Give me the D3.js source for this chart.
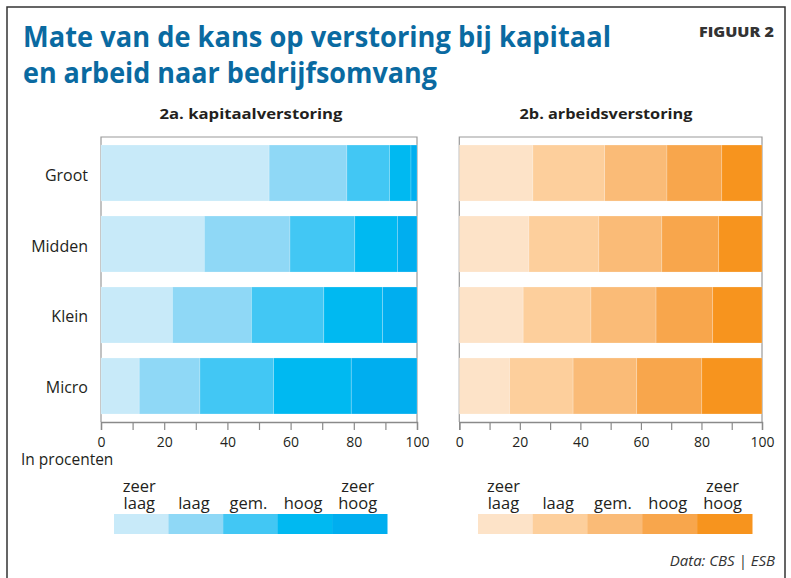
<!DOCTYPE html>
<html>
<head>
<meta charset="utf-8">
<script src="https://cdn.jsdelivr.net/npm/d3@7"></script>
<style>
  body { margin: 0; background: #fff; }
  text { font-family: "Open Sans", sans-serif; fill: #231f20; }
</style>
</head>
<body>
<script>
// data (percent per size class)
let categories = ['Groot', 'Midden', 'Klein', 'Micro'];
let levels = ['zeer laag', 'laag', 'gem.', 'hoog', 'zeer hoog'];
let kapitaal = [
  [53.2, 24.6, 13.5, 6.8, 1.9],
  [32.7, 27.1, 20.5, 13.5, 6.2],
  [22.6, 25.0, 22.9, 18.6, 10.9],
  [12.1, 19.2, 23.3, 24.6, 20.8]
];
let arbeid = [
  [24.3, 23.7, 20.6, 18.1, 13.3],
  [23.0, 23.1, 20.8, 18.8, 14.3],
  [21.1, 22.4, 21.5, 18.7, 16.3],
  [16.6, 21.0, 21.0, 21.5, 19.9]
];
let ticks = [0, 20, 40, 60, 80, 100];

let blues = ['#c8eaf9', '#8fd8f6', '#42c7f4', '#00b9f1', '#00aeef'];
let oranges = ['#fde3c8', '#fdcf9c', '#fabb77', '#f8a64c', '#f7941e'];

let width = 791, height = 578;
let plotTop = 137, plotBottom = 422;

let svg = d3.select('body').append('svg')
            .attr('width', width)
            .attr('height', height);

// outer frame
svg.append('rect')
   .attr('x', 7).attr('y', 7)
   .attr('width', 778).attr('height', 620)
   .attr('fill', 'none')
   .attr('stroke', '#333')
   .attr('stroke-width', 1.5);

// title
let title = ['Mate van de kans op verstoring bij kapitaal', 'en arbeid naar bedrijfsomvang'];
let titleLen = [588, 414];
title.forEach((t, i) => {
  svg.append('text')
     .attr('x', 23).attr('y', 47 + i * 36)
     .attr('textLength', titleLen[i])
     .attr('lengthAdjust', 'spacingAndGlyphs')
     .style('font-size', '29px')
     .style('font-weight', 700)
     .style('fill', '#0a6aa1')
     .text(t);
});

svg.append('text')
   .attr('x', 699).attr('y', 37)
   .attr('textLength', 75)
   .attr('lengthAdjust', 'spacingAndGlyphs')
   .style('font-size', '14px')
   .style('font-weight', 800)
   .style('fill', '#333')
   .text('FIGUUR 2');

let y = d3.scaleBand()
          .domain(categories)
          .range([plotTop, plotBottom])
          .paddingInner(0.211)
          .paddingOuter(0.113);

function panel(x0, x1, data, colors, label, labelX, labelLen, showCats) {
  let x = d3.scaleLinear().domain([0, 100]).range([x0, x1]);
  let g = svg.append('g');

  g.append('text')
   .attr('x', labelX).attr('y', 119)
   .attr('text-anchor', 'middle')
   .attr('textLength', labelLen)
   .attr('lengthAdjust', 'spacingAndGlyphs')
   .style('font-size', '15px')
   .style('font-weight', 700)
   .text(label);

  // frame
  g.append('path')
   .attr('d', 'M' + x0 + ',' + plotBottom + 'V' + plotTop + 'H' + x1 + 'V' + plotBottom)
   .attr('fill', 'none')
   .attr('stroke', '#9a9a9a')
   .attr('stroke-width', 1.2);

  let rows = categories.map((c, i) => {
    let acc = 0;
    return data[i].map((v, k) => {
      let seg = { cat: c, k: k, x0: acc, x1: acc + v };
      acc += v;
      return seg;
    });
  });

  g.selectAll('g.row')
   .data(rows)
   .enter()
   .append('g')
   .attr('class', 'row')
   .selectAll('rect')
   .data((d) => d)
   .enter()
   .append('rect')
   .attr('x', (d) => x(d.x0))
   .attr('width', (d) => x(d.x1) - x(d.x0))
   .attr('y', (d) => y(d.cat))
   .attr('height', y.bandwidth())
   .attr('fill', (d) => colors[d.k])
   .attr('stroke', 'rgba(255,255,255,0.25)')
   .attr('stroke-width', 0.8);

  let axis = d3.axisBottom(x)
               .tickValues(d3.range(0, 101, 10))
               .tickSize(8)
               .tickFormat((d) => ticks.indexOf(d) >= 0 ? d : '');
  let ax = g.append('g')
            .attr('transform', 'translate(0,' + plotBottom + ')')
            .call(axis);
  ax.select('.domain').attr('stroke', '#8a8a8a').attr('stroke-width', 1.4);
  ax.selectAll('.tick line').attr('stroke', '#8a8a8a').attr('stroke-width', 1.2);
  ax.selectAll('.tick text')
    .attr('dy', null)
    .attr('y', 25)
    .style('font-size', '14px')
    .style('font-family', '"Open Sans", sans-serif')
    .style('fill', '#231f20');

  if (showCats) {
    g.selectAll('text.cat')
     .data(categories)
     .enter()
     .append('text')
     .attr('class', 'cat')
     .attr('x', x0 - 13)
     .attr('y', (d) => y(d) + y.bandwidth() / 2 + 7.5)
     .attr('text-anchor', 'end')
     .style('font-size', '16px')
     .text((d) => d);
  }
}

panel(101, 417, kapitaal, blues, '2a. kapitaalverstoring', 251, 183, true);
panel(459.3, 762, arbeid, oranges, '2b. arbeidsverstoring', 606, 173, false);

svg.append('text')
   .attr('x', 21).attr('y', 465)
   .style('font-size', '15.5px')
   .text('In procenten');

// legends
function legend(x0, x1, colors) {
  let lx = d3.scaleBand().domain(levels).range([x0, x1]);
  let g = svg.append('g');
  g.selectAll('rect')
   .data(levels)
   .enter()
   .append('rect')
   .attr('x', (d) => lx(d))
   .attr('y', 514)
   .attr('width', lx.bandwidth() + 0.5)
   .attr('height', 20)
   .attr('fill', (d, i) => colors[i]);

  levels.forEach((d) => {
    let parts = d.split(' ');
    let cx = lx(d) + lx.bandwidth() / 2 - 2;
    parts.forEach((p, j) => {
      g.append('text')
       .attr('x', cx)
       .attr('y', 509 - (parts.length - 1 - j) * 17.5)
       .attr('text-anchor', 'middle')
       .style('font-size', '16.5px')
       .text(p);
    });
  });
}

legend(114, 387, blues);
legend(478, 752, oranges);

svg.append('text')
   .attr('x', 775).attr('y', 566)
   .attr('text-anchor', 'end')
   .style('font-size', '15px')
   .style('font-style', 'italic')
   .style('fill', '#333')
   .text('Data: CBS | ESB');
</script>
</body>
</html>
